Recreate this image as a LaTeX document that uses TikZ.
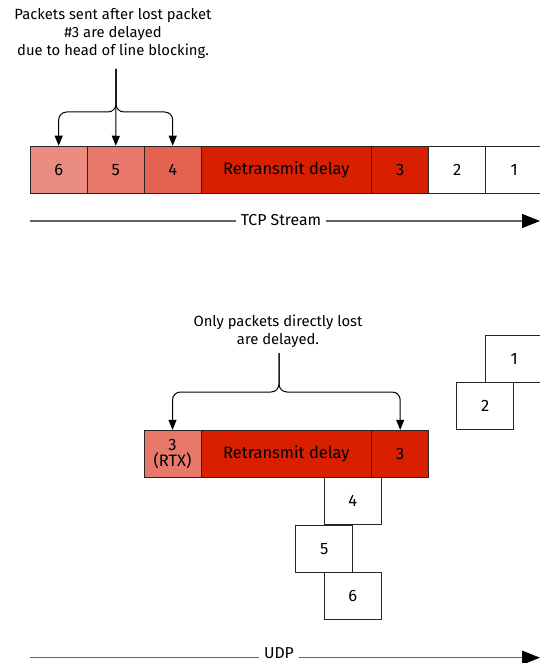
\documentclass[tikz,border=0pt]{standalone}
\usepackage{fontspec}
\setmainfont{Fira Sans}
\usetikzlibrary{arrows.meta}
\definecolor{c6}{RGB}{234,140,128}
\definecolor{c5}{RGB}{232,121,106}
\definecolor{c4}{RGB}{228,98,80}
\definecolor{cdark}{RGB}{216,32,0}
\definecolor{lgray}{RGB}{100,100,100}
\begin{document}
\begin{tikzpicture}[x=1pt,y=-1pt,
  pkt/.style={draw=black!85, line width=0.9pt, minimum width=57pt, minimum height=47pt, inner sep=0pt, font=\fontsize{16.5}{18}\selectfont, align=center},
  note/.style={align=center, font=\fontsize{14.8}{18}\selectfont, inner sep=0pt},
  brace/.style={draw=black, line width=1pt, rounded corners=8pt},
  tip/.style={-{Triangle[length=10pt,width=8pt]}},
  stream/.style={draw=lgray, line width=1.3pt},
  bigtip/.style={-{Triangle[length=18pt,width=14pt,fill=black,color=black]}},
  lbl/.style={font=\fontsize{15.8}{18}\selectfont, inner xsep=5pt, inner ysep=0pt}]
\clip (0,0) rectangle (540,663);
\fill[white] (0,0) rectangle (540,663);
% ---------- TCP ----------
\node[note] (tcpnote) at (113,34) {Packets sent after lost packet\\\#3 are delayed\\due to head of line blocking.};
\node[pkt, fill=c6] (b6) at (58.7,169.7) {6};
\node[pkt, fill=c5] (b5) at (115.8,169.7) {5};
\node[pkt, fill=c4] (b4) at (172.7,169.7) {4};
\node[pkt, fill=cdark, minimum width=170.7pt] (bret) at (286.3,169.7) {Retransmit delay};
\node[pkt, fill=cdark] (b3) at (400.2,169.7) {3};
\node[pkt, fill=white] (b2) at (457.2,169.7) {2};
\node[pkt, fill=white] (b1) at (514.2,169.7) {1};
\coordinate (tcptop) at (116,69);
\coordinate (tcpj) at (116,112);
\draw[brace, tip] (tcptop) -- (tcpj) -| (b6.north);
\draw[brace, tip] (tcptop) -- (tcpj) -| (b4.north);
\draw[brace, tip] (tcptop) -- (b5.north);
\coordinate (tcpL) at (30,221);
\coordinate (tcpR) at (540,221);
\node[lbl] (tcplbl) at (281,220.5) {TCP Stream};
\draw[stream] (tcpL) -- (tcplbl.west |- tcpL);
\draw[stream, bigtip] (tcplbl.east |- tcpR) -- (tcpR);
% ---------- UDP ----------
\node[note] (udpnote) at (278,331.5) {Only packets directly lost\\are delayed.};
\node[pkt, fill=white] (u1) at (514.2,359.2) {1};
\node[pkt, fill=white] (u2) at (485.2,406.3) {2};
\node[pkt, fill=c5, font=\fontsize{16.5}{16}\selectfont] (u3r) at (172.5,453.8) {3\\(RTX)};
\node[pkt, fill=cdark, minimum width=170.7pt] (uret) at (286.3,453.8) {Retransmit delay};
\node[pkt, fill=cdark] (u3) at (400.2,453.8) {3};
\node[pkt, fill=white] (u4) at (352.8,501.3) {4};
\node[pkt, fill=white] (u5) at (324.2,548.7) {5};
\node[pkt, fill=white] (u6) at (352.8,596.2) {6};
\coordinate (udptop) at (279,353);
\coordinate (udpj) at (279,392);
\draw[brace, tip] (udptop) -- (udpj) -| (u3r.north);
\draw[brace, tip] (udptop) -- (udpj) -| (u3.north);
\coordinate (udpL) at (30,657.7);
\coordinate (udpR) at (540,657.7);
\node[lbl] (udplbl) at (279,652.8) {UDP};
\draw[stream] (udpL) -- (udplbl.west |- udpL);
\draw[stream, bigtip] (udplbl.east |- udpR) -- (udpR);
\end{tikzpicture}
\end{document}
